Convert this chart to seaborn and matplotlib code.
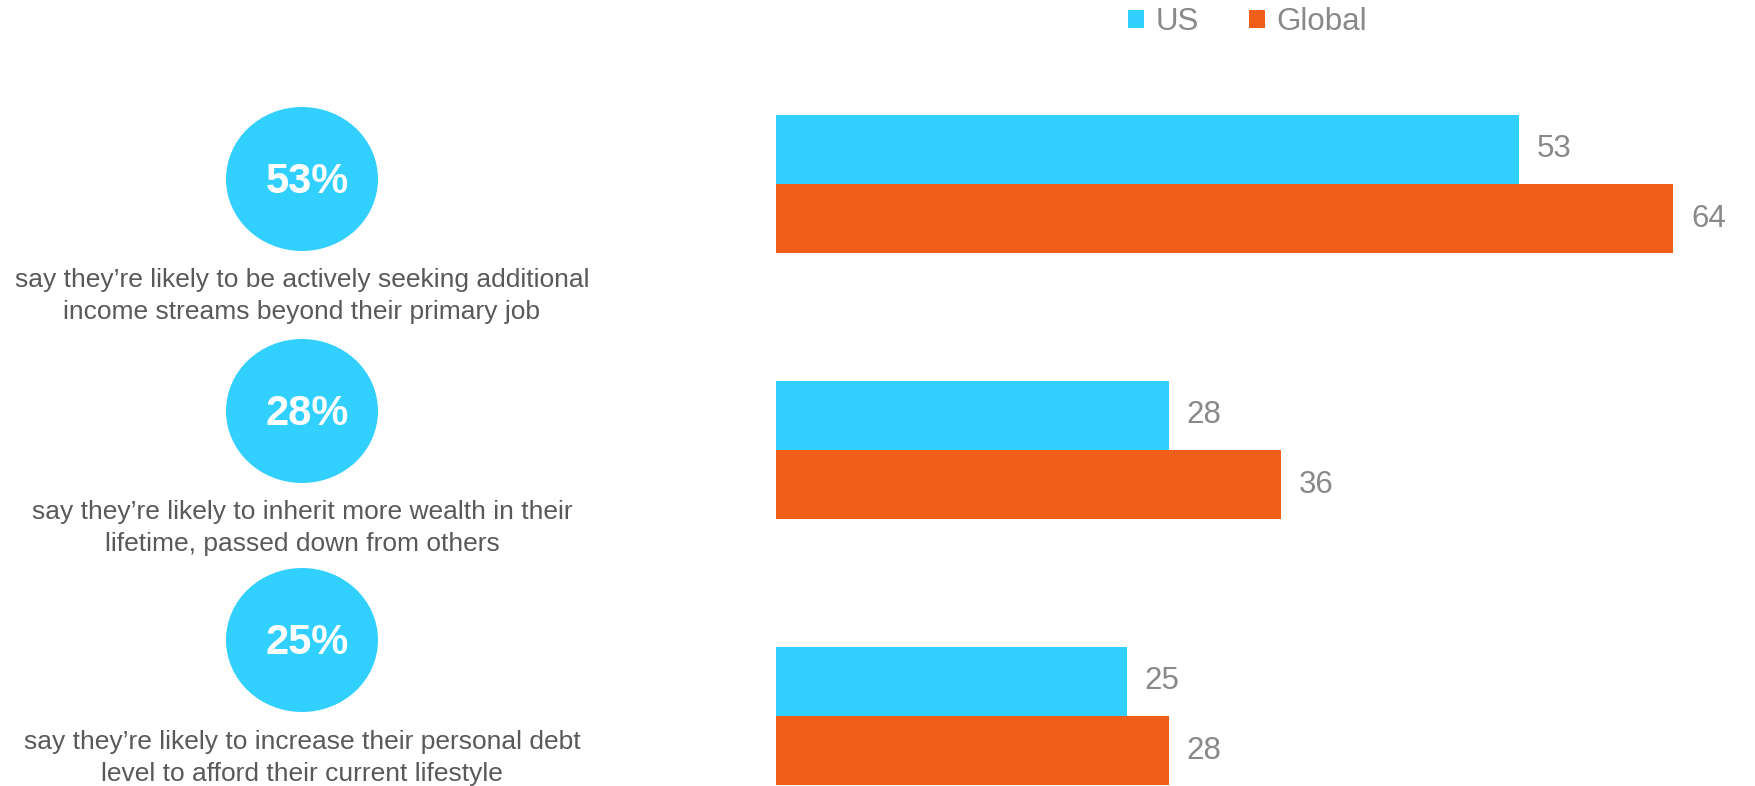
import matplotlib
matplotlib.use("Agg")
import matplotlib.pyplot as plt
from matplotlib.patches import Ellipse
import seaborn as sns
import pandas as pd

# ---- data ----
categories = ["Additional income", "Inherit wealth", "Increase debt"]
us_values = [53, 28, 25]
global_values = [64, 36, 28]
series_names = ["US", "Global"]
descriptions = [
    "say they\u2019re likely to be actively seeking additional\nincome streams beyond their primary job",
    "say they\u2019re likely to inherit more wealth in their\nlifetime, passed down from others",
    "say they\u2019re likely to increase their personal debt\nlevel to afford their current lifestyle",
]

# ---- style ----
sns.set_theme(style="white")
plt.rcParams["font.family"] = ["Liberation Sans", "DejaVu Sans"]

US_COLOR = "#32D0FF"
GL_COLOR = "#EF5F19"
LABEL_GRAY = "#898989"
TEXT_GRAY = "#595959"

W, H = 1755, 786
DPI = 100
fig = plt.figure(figsize=(W / DPI, H / DPI), dpi=DPI)
fig.patch.set_facecolor("white")

df = pd.DataFrame({
    "category": categories * 2,
    "value": us_values + global_values,
    "series": [series_names[0]] * len(categories) + [series_names[1]] * len(categories),
})

# bar axes: x from 776px to right edge, full height
ax_left = 776 / W
ax = fig.add_axes([ax_left, 0, 1 - ax_left, 1])
sns.barplot(data=df, y="category", x="value", hue="series", order=categories,
            hue_order=series_names, palette={"US": US_COLOR, "Global": GL_COLOR},
            orient="h", width=0.52, saturation=1, ax=ax, linewidth=0)
px_per_unit = 14.02
ax.set_xlim(0, (W - 776) / px_per_unit)
# category spacing 266px, first center at 184px from top
ax.set_ylim(2 + (H - 716) / 266, -184 / 266)
ax.set_axis_off()

for cont in ax.containers:
    ax.bar_label(cont, fmt="%d", padding=13, fontsize=22.5, color=LABEL_GRAY)

sns.move_legend(ax, loc="center left", bbox_to_anchor=(1128 / W, 1 - 22 / H),
                bbox_transform=fig.transFigure, ncol=2, frameon=False, title=None,
                fontsize=22.5, labelcolor=LABEL_GRAY, handlelength=0.52, handleheight=0.52,
                handletextpad=0.36, columnspacing=1.6, borderpad=0, borderaxespad=0)

# left panel in pixel coordinates
axl = fig.add_axes([0, 0, 1, 1], zorder=-1)
axl.set_xlim(0, W)
axl.set_ylim(H, 0)
axl.set_axis_off()

circle_y = [179, 411, 640]
desc_y = [296, 528, 758]
for cy, dy, v, d in zip(circle_y, desc_y, us_values, descriptions):
    axl.add_patch(Ellipse((302, cy), 152, 144, facecolor=US_COLOR, edgecolor="none"))
    axl.text(307, cy + 3, f"{v}%", ha="center", va="center", fontsize=30,
             fontweight="bold", color="white")
    axl.text(302, dy, d, ha="center", va="center", fontsize=19, color=TEXT_GRAY,
             linespacing=1.42, multialignment="center")

fig.savefig("out.png", dpi=DPI, facecolor="white")
